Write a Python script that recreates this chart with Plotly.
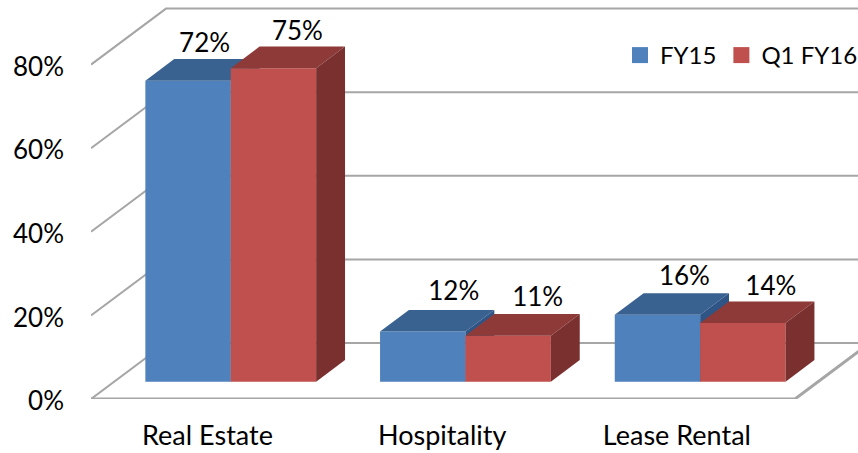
import plotly.graph_objects as go

categories = ["Real Estate", "Hospitality", "Lease Rental"]
fy15 = [72, 12, 16]
q1_fy16 = [75, 11, 14]
y_ticks = [0, 20, 40, 60, 80]

FONT = "Lato"
TEXT_SIZE = 26
CAT_SIZE = 27
LEGEND_SIZE = 24
GRID = "#a6a6a6"

# Canvas layout in pixels; everything else is converted to axis units.
W, H = 858, 453
LEFT, BOTTOM = 91, 54
PX_PER_CAT = 234.7
PX_PER_PCT = 4.18
FIRST_CAT_PX = 207.5

x_range = [(LEFT - FIRST_CAT_PX) / PX_PER_CAT, (W - FIRST_CAT_PX) / PX_PER_CAT]
y_range = [0, (H - BOTTOM) / PX_PER_PCT]

# Oblique projection: depth 0 is the front of the floor, depth 1 the back wall.
DEPTH_X = 75 / PX_PER_CAT
DEPTH_Y = 56 / PX_PER_PCT
BAR_NEAR, BAR_FAR = 0.31, 0.695
BAR_W = 85.4 / PX_PER_CAT
FLOOR_END = (795 - FIRST_CAT_PX) / PX_PER_CAT
WALL_END = FLOOR_END + DEPTH_X


def project(x, v, depth):
    return x + depth * DEPTH_X, v + depth * DEPTH_Y


def face(points, color, xa, ya):
    xs = [p[0] for p in points] + [points[0][0]]
    ys = [p[1] for p in points] + [points[0][1]]
    return go.Scatter(
        x=xs, y=ys, mode="lines", fill="toself", fillcolor=color,
        line=dict(width=0), hoverinfo="skip", showlegend=False,
        xaxis=xa, yaxis=ya,
    )


def box_traces(cat_x, left, value, front, top, side, xa, ya):
    """Bar front plus its receding top and right faces; left is at depth 0."""
    right = left + BAR_W
    traces = [go.Bar(
        x=[cat_x + BAR_NEAR * DEPTH_X], y=[value], base=[BAR_NEAR * DEPTH_Y],
        width=[BAR_W], offset=[left - cat_x], marker=dict(color=front, line=dict(width=0)),
        showlegend=False, xaxis=xa, yaxis=ya, hoverinfo="y",
    )]
    tl_n = project(left, value, BAR_NEAR)
    tr_n = project(right, value, BAR_NEAR)
    tl_f = project(left, value, BAR_FAR)
    tr_f = project(right, value, BAR_FAR)
    br_n = project(right, 0, BAR_NEAR)
    br_f = project(right, 0, BAR_FAR)
    traces.append(face([tl_n, tr_n, tr_f, tl_f], top, xa, ya))
    traces.append(face([tr_n, tr_f, br_f, br_n], side, xa, ya))
    return traces


def grid_line(xs, ys, width):
    return go.Scatter(
        x=xs, y=ys, mode="lines", line=dict(color=GRID, width=width),
        hoverinfo="skip", showlegend=False, xaxis="x", yaxis="y",
    )


fig = go.Figure()

# Back wall gridlines with their slanted returns to the axis.
for v in y_ticks:
    bx, by = project(x_range[0], v, 1)
    fig.add_trace(grid_line([x_range[0], bx, WALL_END], [v, by, by], 2))

# Floor outline.
corner = project(FLOOR_END, 0, 1)
fig.add_trace(grid_line([x_range[0], FLOOR_END, corner[0]], [0, 0, corner[1]], 3))

# Blue boxes sit behind the red boxes, so each colour gets its own overlay axes.
for i in range(len(categories)):
    fig.add_traces(box_traces(i, i - BAR_W, fy15[i], "#4f81bd", "#3a6291", "#2f5587", "x2", "y2"))
for i in range(len(categories)):
    fig.add_traces(box_traces(i, i, q1_fy16[i], "#c0504d", "#8e3a38", "#7a302f", "x3", "y3"))

# Value labels, nudged above the top faces (pixel offsets from each bar's front top).
nudge_x = [[16.5, 31, 27], [24, 29.5, 28]]
nudge_y = [[35, 38, 36], [35, 36, 35]]
for s, vals in enumerate([fy15, q1_fy16]):
    xs, ys, texts = [], [], []
    for i, v in enumerate(vals):
        centre = i + BAR_NEAR * DEPTH_X + (s - 0.5) * BAR_W
        xs.append(centre + nudge_x[s][i] / PX_PER_CAT)
        ys.append(v + BAR_NEAR * DEPTH_Y + nudge_y[s][i] / PX_PER_PCT)
        texts.append(f"{v}%")
    fig.add_trace(go.Scatter(
        x=xs, y=ys, text=texts, mode="text", textposition="middle center",
        textfont=dict(family=FONT, size=TEXT_SIZE, color="#000000"),
        hoverinfo="skip", showlegend=False, xaxis="x3", yaxis="y3", cliponaxis=False,
    ))

# Legend entries.
for name, color in [("FY15", "#4f81bd"), ("Q1 FY16", "#c0504d")]:
    fig.add_trace(go.Scatter(
        x=[None], y=[None], mode="markers", name=name,
        marker=dict(symbol="square", size=16, color=color),
        xaxis="x3", yaxis="y3",
    ))

hidden = dict(visible=False, fixedrange=True)
fig.update_layout(
    width=W, height=H,
    margin=dict(l=LEFT, r=0, t=0, b=BOTTOM, autoexpand=False),
    paper_bgcolor="#ffffff", plot_bgcolor="#ffffff",
    barmode="overlay",
    font=dict(family=FONT, size=TEXT_SIZE, color="#000000"),
    xaxis=dict(
        range=x_range, tickmode="array", tickvals=list(range(len(categories))),
        ticktext=categories, showgrid=False, zeroline=False, showline=False,
        ticks="", ticklabelstandoff=18, tickfont=dict(family=FONT, size=CAT_SIZE, color="#000000"),
    ),
    yaxis=dict(
        range=y_range, tickmode="array", tickvals=y_ticks, ticktext=[f"{v}%" for v in y_ticks],
        showgrid=False, zeroline=False, showline=False, ticks="", ticklabelstandoff=26,
        ticklabelshift=2, tickfont=dict(family=FONT, size=TEXT_SIZE, color="#000000"),
    ),
    xaxis2=dict(range=x_range, overlaying="x", **hidden),
    yaxis2=dict(range=y_range, overlaying="y", **hidden),
    xaxis3=dict(range=x_range, overlaying="x", **hidden),
    yaxis3=dict(range=y_range, overlaying="y", **hidden),
    legend=dict(
        orientation="h", x=1 + 5 / (W - LEFT), xanchor="right",
        y=(399 - 55.5) / 399, yanchor="middle",
        bgcolor="rgba(0,0,0,0)", font=dict(family=FONT, size=LEGEND_SIZE, color="#000000"),
        itemwidth=30, traceorder="normal",
    ),
    showlegend=True,
)

fig.write_html("out.html")
